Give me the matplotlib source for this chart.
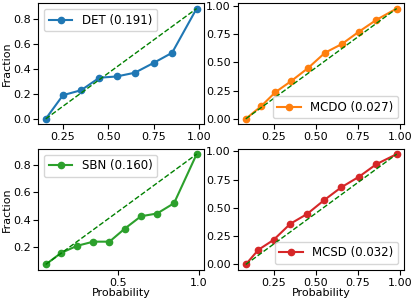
import matplotlib
matplotlib.use("Agg")
import matplotlib.pyplot as plt

plt.rcParams["font.size"] = 8
plt.rcParams["legend.fontsize"] = 8.5
plt.rcParams["xtick.major.pad"] = 2
plt.rcParams["ytick.major.pad"] = 2

det_x = [0.155, 0.25, 0.35, 0.45, 0.545, 0.645, 0.75, 0.85, 0.985]
det_y = [0.0, 0.19, 0.23, 0.33, 0.34, 0.37, 0.45, 0.53, 0.885]

mcdo_x = [0.085, 0.175, 0.26, 0.355, 0.455, 0.555, 0.655, 0.755, 0.86, 0.98]
mcdo_y = [0.0, 0.11, 0.235, 0.335, 0.45, 0.585, 0.662, 0.77, 0.876, 0.976]

sbn_x = [0.05, 0.145, 0.245, 0.345, 0.445, 0.54, 0.64, 0.74, 0.845, 0.985]
sbn_y = [0.074, 0.158, 0.21, 0.24, 0.24, 0.335, 0.425, 0.445, 0.52, 0.877]

mcsd_x = [0.085, 0.16, 0.25, 0.35, 0.45, 0.55, 0.652, 0.758, 0.862, 0.982]
mcsd_y = [0.0, 0.13, 0.217, 0.36, 0.447, 0.568, 0.682, 0.776, 0.888, 0.976]

xt_quarter = [0.25, 0.5, 0.75, 1.0]
yt_quarter = [0.0, 0.25, 0.5, 0.75, 1.0]

panels = [
    ("DET (0.191)", det_x, det_y, "tab:blue", "upper left", xt_quarter, [0.0, 0.2, 0.4, 0.6, 0.8]),
    ("MCDO (0.027)", mcdo_x, mcdo_y, "tab:orange", "lower right", xt_quarter, yt_quarter),
    ("SBN (0.160)", sbn_x, sbn_y, "tab:green", "upper left", [0.5, 1.0], [0.2, 0.4, 0.6, 0.8]),
    ("MCSD (0.032)", mcsd_x, mcsd_y, "tab:red", "lower right", xt_quarter, yt_quarter),
]

fig, axes = plt.subplots(2, 2, figsize=(4.15, 3.02), dpi=100)
fig.subplots_adjust(left=0.092, right=0.974, top=0.99, bottom=0.106,
                    wspace=0.205, hspace=0.2)

for ax, (label, x, y, color, loc, xt, yt) in zip(axes.flat, panels):
    ax.plot(x, y, "o-", color=color, linewidth=1.5, markersize=4.5, label=label)
    ax.plot([x[0], x[-1]], [y[0], y[-1]], "g--", linewidth=1)
    ax.set_xticks(xt)
    ax.set_yticks(yt)
    ax.legend(loc=loc)

for ax in axes[:, 0]:
    ax.set_ylabel("Fraction", labelpad=1)
for ax in axes[1, :]:
    ax.set_xlabel("Probability", labelpad=0.5)

fig.savefig("out.png", dpi=100)
